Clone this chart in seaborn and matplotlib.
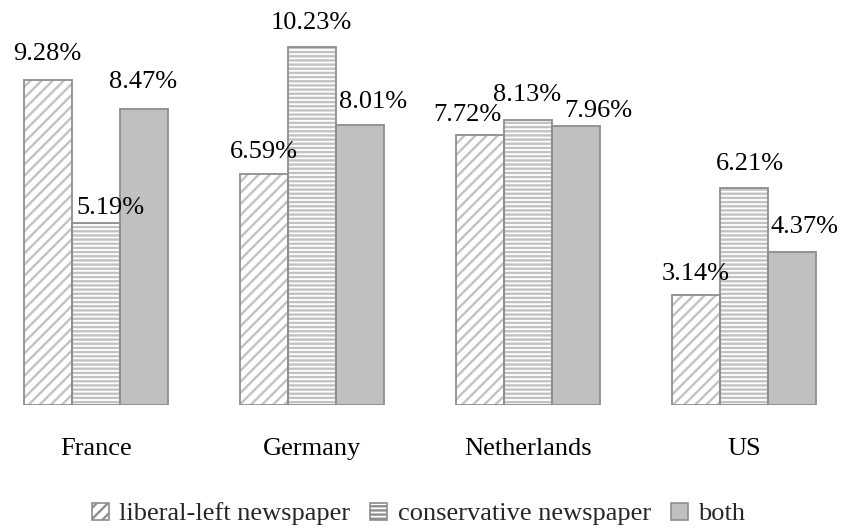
import numpy as np
import pandas as pd
import seaborn as sns
import matplotlib.pyplot as plt
from matplotlib.patches import Patch, Rectangle

# Share of respondents by newspaper type, per country (%)
countries = ["France", "Germany", "Netherlands", "US"]
series_names = ["liberal-left newspaper", "conservative newspaper", "both"]
liberal_left = [9.28, 6.59, 7.72, 3.14]
conservative = [5.19, 10.23, 8.13, 6.21]
both = [8.47, 8.01, 7.96, 4.37]

df = pd.DataFrame({
    "country": countries * 3,
    "series": np.repeat(series_names, len(countries)),
    "share": liberal_left + conservative + both,
})

# styling
fill_colors = ["white", "white", "#c0c0c0"]
hatches = ["///", "----", ""]
edge_gray = "#8e8e8e"
hatch_gray = "#c2c2c2"
font_size = 19

# label nudges in pixels (dx, dy of digit centre above bar top), per series
label_nudges = [
    [(-1, 29), (0, 25), (-13, 22), (0, 24)],
    [(14, 18), (-1, 26), (-1, 28), (6, 26)],
    [(-1, 29), (13, 25), (22, 18), (12, 28)],
]

sns.set_theme(style="white")
plt.rcParams["font.family"] = ["Liberation Serif", "DejaVu Serif"]
plt.rcParams["hatch.linewidth"] = 1.7

fig = plt.figure(figsize=(8.42, 5.30), dpi=100)
ax = fig.add_axes([0, 125 / 530, 1, 405 / 530])

sns.barplot(
    data=df, x="country", y="share", hue="series",
    order=countries, hue_order=series_names,
    palette=fill_colors, saturation=1, width=0.667,
    edgecolor=edge_gray, linewidth=1.3, legend=False, ax=ax,
)

values = [liberal_left, conservative, both]
for s, cont in enumerate(ax.containers):
    for j, p in enumerate(cont.patches):
        if hatches[s]:
            p.set_hatch(hatches[s])
            if hasattr(p, "set_hatchcolor"):
                p.set_hatchcolor(hatch_gray)
            else:
                p.set_edgecolor(hatch_gray)
                p.set_linewidth(0)
                ax.add_patch(Rectangle(p.get_xy(), p.get_width(), p.get_height(),
                                       fill=False, edgecolor=edge_gray, linewidth=1.3,
                                       zorder=p.get_zorder() + 0.1))
        dx, dy = label_nudges[s][j]
        ax.annotate(f"{values[s][j]:.2f}%",
                    xy=(p.get_x() + p.get_width() / 2, p.get_height()),
                    xytext=(dx, dy - 8.5), textcoords="offset pixels",
                    ha="center", va="baseline", fontsize=font_size, color="black")

ax.set_xlim(-96 / 216, (842 - 96) / 216)
ax.set_ylim(0, 405 / 35)
ax.set_yticks([])
ax.set_xlabel("")
ax.set_ylabel("")
ax.tick_params(axis="x", length=0, pad=23.5, labelsize=font_size, colors="black")
for sp in ax.spines.values():
    sp.set_visible(False)


def legend_handle(fc, h):
    patch = Patch(facecolor=fc, edgecolor=edge_gray, hatch=h, linewidth=1.2)
    if h and hasattr(patch, "set_hatchcolor"):
        patch.set_hatchcolor(hatch_gray)
    return patch


handles = [legend_handle(fc, h) for fc, h in zip(fill_colors, hatches)]
fig.legend(handles, series_names, loc="center",
           bbox_to_anchor=(418.5 / 842, 1 - 514 / 530), ncol=3, frameon=False,
           fontsize=font_size, handlelength=0.64, handleheight=0.64,
           handletextpad=0.4, columnspacing=0.75, borderpad=0)

fig.savefig("out.png", dpi=100)
